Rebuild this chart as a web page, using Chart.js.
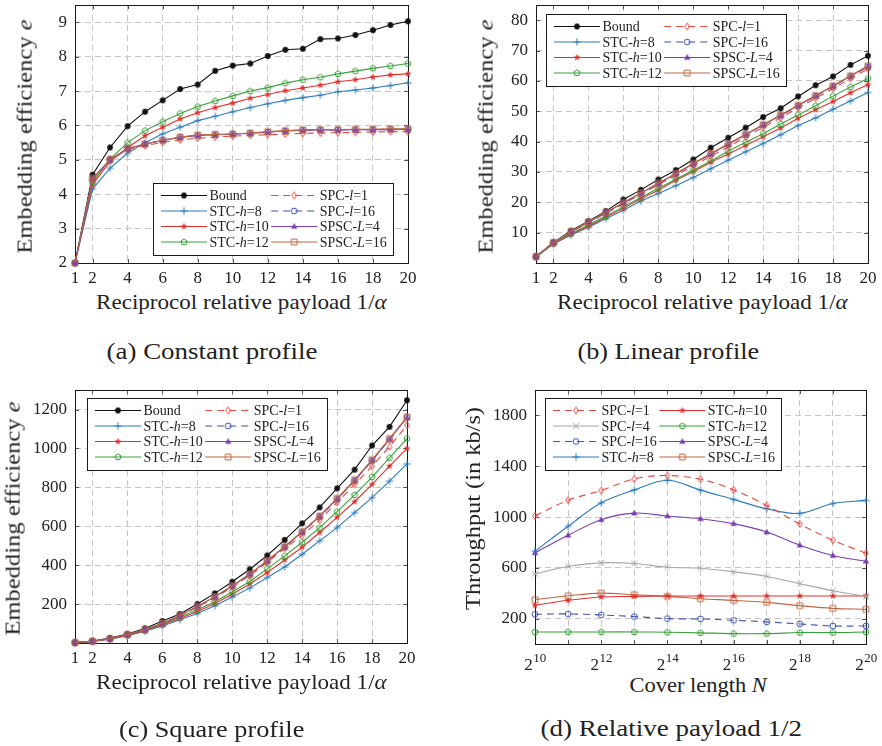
<!DOCTYPE html>
<html><head><meta charset="utf-8">
<script src="https://cdn.jsdelivr.net/npm/chart.js@4.4.1/dist/chart.umd.min.js"></script>
<style>
html,body{margin:0;padding:0;background:#fff;}
body{width:882px;height:746px;position:relative;overflow:hidden;font-family:"Liberation Serif","DejaVu Serif",serif;color:#222;}
canvas{position:absolute;}
.t{position:absolute;white-space:nowrap;line-height:1;color:#222;z-index:2;transform-origin:50% 50%;font-family:"Liberation Serif",serif;}
.ti{font-size:21px;}
.cap{font-size:24px;}
</style></head><body>
<canvas id="ca" width="420" height="290" style="left:0;top:0"></canvas>
<canvas id="cb" width="441" height="290" style="left:441px;top:0"></canvas>
<canvas id="cc" width="420" height="286" style="left:0;top:385px"></canvas>
<canvas id="cd" width="441" height="286" style="left:441px;top:385px"></canvas>

<div class="t ti" id="ay">Embedding efficiency <i>e</i></div>
<div class="t ti" id="ax">Reciprocol relative payload 1/<i>α</i></div>
<div class="t cap" id="acap">(a) Constant profile</div>
<div class="t ti" id="by">Embedding efficiency <i>e</i></div>
<div class="t ti" id="bx">Reciprocol relative payload 1/<i>α</i></div>
<div class="t cap" id="bcap">(b) Linear profile</div>
<div class="t ti" id="cy">Embedding efficiency <i>e</i></div>
<div class="t ti" id="cx">Reciprocol relative payload 1/<i>α</i></div>
<div class="t cap" id="ccap">(c) Square profile</div>
<div class="t ti" id="dy">Throughput (in kb/s)</div>
<div class="t ti" id="dx">Cover length <i>N</i></div>
<div class="t cap" id="dcap">(d) Relative payload 1/2</div>

<script>
// ---------------- data ----------------
const PAYLOAD = [1,2,3,4,5,6,7,8,9,10,11,12,13,14,15,16,17,18,19,20];
const PAYLOAD_TICKS = [1,2,4,6,8,10,12,14,16,18,20];

// (a) constant profile
const A_BOUND  = [2,4.57,5.36,5.98,6.40,6.73,7.06,7.19,7.59,7.74,7.80,8.02,8.20,8.23,8.51,8.53,8.63,8.77,8.92,9.03];
const A_STC8   = [2,4.15,4.76,5.19,5.50,5.76,5.95,6.14,6.27,6.40,6.52,6.63,6.73,6.81,6.88,6.98,7.03,7.09,7.16,7.24];
const A_STC10  = [2,4.28,4.95,5.36,5.70,5.95,6.19,6.37,6.52,6.65,6.79,6.90,7.01,7.09,7.17,7.27,7.33,7.41,7.47,7.50];
const A_STC12  = [2,4.35,5.02,5.50,5.85,6.11,6.35,6.55,6.71,6.86,7.00,7.10,7.23,7.33,7.40,7.50,7.58,7.66,7.73,7.80];
const A_SPC1   = [2,4.42,5.00,5.30,5.41,5.51,5.58,5.63,5.66,5.69,5.71,5.73,5.75,5.77,5.78,5.79,5.80,5.81,5.82,5.82];
const A_SPC16  = [2,4.45,5.00,5.32,5.46,5.57,5.66,5.71,5.73,5.75,5.77,5.81,5.84,5.86,5.87,5.87,5.88,5.88,5.89,5.89];
const A_SPSC4  = [2,4.45,5.00,5.32,5.46,5.56,5.65,5.71,5.73,5.75,5.77,5.81,5.84,5.86,5.87,5.87,5.88,5.88,5.88,5.89];
const A_SPSC16 = [2,4.46,5.01,5.33,5.46,5.57,5.66,5.72,5.74,5.75,5.78,5.82,5.85,5.87,5.88,5.88,5.89,5.89,5.90,5.90];
const A_YTICKS = [2,3,4,5,6,7,8,9];

// (b) linear profile
const B_BOUND  = [2.2,6.8,10.6,13.8,17.1,20.9,24.1,27.5,30.6,34.1,38.0,41.3,44.6,48.1,51.0,54.9,58.6,61.5,65.3,68.3];
const B_STC8   = [2,6.3,9.2,11.8,14.6,17.4,20.4,22.9,25.5,28.2,31.1,33.9,36.7,39.4,42.3,45.3,47.8,50.7,53.4,56.2];
const B_STC10  = [2,6.4,9.4,12.1,15.1,18.0,21.2,24.0,27.3,30.1,33.2,35.9,38.7,41.6,44.5,47.7,50.5,53.2,56.1,58.8];
const B_STC12  = [2,6.5,9.7,12.5,15.5,18.5,21.6,24.6,27.6,30.6,33.6,36.8,39.8,42.6,45.8,48.8,51.8,55.0,58.0,60.8];
const B_SPC1   = [2.1,6.6,10.2,13.3,16.4,19.5,22.6,25.8,28.9,32.0,35.2,38.3,41.5,44.7,47.9,51.1,54.3,57.5,60.8,64.0];
const B_SPC16  = [2.1,6.7,10.3,13.4,16.6,19.8,23.0,26.2,29.4,32.6,35.9,39.1,42.3,45.5,48.6,51.8,55.0,58.2,61.5,64.7];
const B_SPSC4  = [2.1,6.7,10.3,13.4,16.6,19.8,23.0,26.2,29.4,32.7,35.9,39.1,42.3,45.5,48.7,51.9,55.1,58.3,61.6,64.8];
const B_SPSC16 = [2.1,6.7,10.4,13.5,16.7,19.9,23.1,26.3,29.5,32.8,36.1,39.3,42.4,45.6,48.8,52.0,55.2,58.4,61.7,65.0];
const B_YTICKS = [10,20,30,40,50,60,70,80];

// (c) square profile
const C_BOUND  = [2,10,26,46,75,113,149,200,255,315,379,450,530,615,697,795,891,1015,1111,1248];
const C_STC8   = [2,8,20,38,60,87,120,152,191,236,282,337,391,456,525,593,670,747,832,921];
const C_STC10  = [2,8,21,39,63,92,126,162,203,251,303,362,427,492,568,646,726,815,909,1000];
const C_STC12  = [2,9,22,43,65,96,132,171,212,262,316,381,448,518,593,675,761,853,952,1051];
const C_SPC1   = [2,9,22,43,67,99,139,184,233,288,347,414,487,552,632,723,815,909,1009,1120];
const C_SPC16  = [2,9,22,43,68,100,141,187,237,292,352,421,493,570,649,739,834,937,1046,1160];
const C_SPSC4  = [2,9,22,43,68,100,141,187,237,293,353,422,494,571,651,741,836,939,1048,1158];
const C_SPSC16 = [2,9,22,43,68,101,142,188,238,294,354,424,496,573,653,744,839,942,1051,1162];
const C_YTICKS = [200,400,600,800,1000,1200];

// (d) relative payload 1/2, x = log2(cover length N)
const D_LOGN   = [10,11,12,13,14,15,16,17,18,19,20];
const D_SPC1   = [1008,1133,1209,1301,1327,1298,1214,1091,945,817,715];
const D_SPC4   = [553,610,639,634,605,597,569,532,475,420,375];
const D_SPC16  = [234,237,229,216,200,197,187,174,158,142,142];
const D_STC8   = [731,927,1112,1214,1290,1212,1139,1065,1029,1107,1131];
const D_STC10  = [305,344,370,375,378,378,378,378,378,378,378];
const D_STC12  = [95,95,95,95,93,88,82,82,90,90,95];
const D_SPSC4  = [718,856,979,1031,1008,987,948,882,778,697,652];
const D_SPSC16 = [349,380,401,388,375,357,344,328,302,281,273];
const D_YTICKS = [200,600,1000,1400,1800];
const D_XTICKS = [10,11,12,13,14,15,16,17,18,19,20];
const D_XLABELS = [10,12,14,16,18,20];

// ---------------- styles ----------------
const FONT = '"Liberation Serif","DejaVu Serif",serif';
const GRID = '#c6c6c6';
const STYLE = {
  'Bound':     {color:'#111111', mk:'dot'},
  'STC-h=8':   {color:'#2b7bba', mk:'plus'},
  'STC-h=10':  {color:'#e3302f', mk:'star'},
  'STC-h=12':  {color:'#38a038', mk:'pentagon'},
  'SPC-l=1':   {color:'#e8473f', mk:'diamond', dash:[7,5]},
  'SPC-l=4':   {color:'#a6a6a6', mk:'x'},
  'SPC-l=16':  {color:'#3f51b5', mk:'circle', dash:[7,5]},
  'SPSC-L=4':  {color:'#7b3fae', mk:'triangle'},
  'SPSC-L=16': {color:'#c0673f', mk:'square'}
};

function marker(type, color){
  const c = document.createElement('canvas'); c.width = 12; c.height = 12;
  const g = c.getContext('2d'); g.translate(6,6);
  g.strokeStyle = color; g.fillStyle = color; g.lineWidth = 1;
  g.beginPath();
  if (type==='dot'){ g.arc(0,0,2.9,0,Math.PI*2); g.fill(); }
  else if (type==='plus'){ g.moveTo(-3.6,0); g.lineTo(3.6,0); g.moveTo(0,-3.6); g.lineTo(0,3.6); g.stroke(); }
  else if (type==='x'){ g.moveTo(-2.8,-2.8); g.lineTo(2.8,2.8); g.moveTo(-2.8,2.8); g.lineTo(2.8,-2.8); g.stroke(); }
  else if (type==='star'){ for(let i=0;i<10;i++){ const r = i%2?1.5:3.8; const a = -Math.PI/2 + i*Math.PI/5; g.lineTo(r*Math.cos(a), r*Math.sin(a)); } g.closePath(); g.fill(); }
  else if (type==='pentagon'){ for(let i=0;i<5;i++){ const a=-Math.PI/2+i*2*Math.PI/5; g.lineTo(3.2*Math.cos(a),3.2*Math.sin(a)); } g.closePath(); g.stroke(); }
  else if (type==='diamond'){ g.moveTo(0,-3.5); g.lineTo(2.4,0); g.lineTo(0,3.5); g.lineTo(-2.4,0); g.closePath(); g.stroke(); }
  else if (type==='circle'){ g.arc(0,0,2.9,0,Math.PI*2); g.stroke(); }
  else if (type==='triangle'){ g.moveTo(0,-3.6); g.lineTo(3.2,2.3); g.lineTo(-3.2,2.3); g.closePath(); g.fill(); }
  else if (type==='square'){ g.rect(-2.9,-2.9,5.8,5.8); g.stroke(); }
  return c;
}

function ds(label, xs, ys, order, tension){
  const s = STYLE[label];
  return {
    label, order,
    data: xs.map((x,i)=>({x:x, y:ys[i]})),
    borderColor: s.color, backgroundColor: s.color,
    borderWidth: 1.1, borderDash: s.dash || [],
    pointStyle: marker(s.mk, s.color), pointRadius: 3,
    tension: tension || 0, fill: false, clip: false
  };
}

// ---------------- plugin: frame, inner ticks, boxed legend ----------------
function parts(label){ const m = label.match(/^(.*-)(\w)(=.*)$/); return m ? [[m[1],false],[m[2],true],[m[3],false]] : [[label,false]]; }
const framePlugin = {
  id: 'frameLegend',
  beforeDatasetsDraw(chart){
    const ctx = chart.ctx, a = chart.chartArea, xs = chart.scales.x, ys = chart.scales.y;
    ctx.save();
    ctx.strokeStyle = '#555'; ctx.lineWidth = 1; ctx.beginPath();
    for (const t of xs.ticks){ const p = Math.round(xs.getPixelForValue(t.value))+0.5; ctx.moveTo(p,a.bottom); ctx.lineTo(p,a.bottom-4); ctx.moveTo(p,a.top); ctx.lineTo(p,a.top+4); }
    for (const t of ys.ticks){ const p = Math.round(ys.getPixelForValue(t.value))+0.5; ctx.moveTo(a.left,p); ctx.lineTo(a.left+4,p); ctx.moveTo(a.right,p); ctx.lineTo(a.right-4,p); }
    ctx.stroke();
    ctx.strokeStyle = '#1a1a1a';
    ctx.strokeRect(Math.round(a.left)+0.5, Math.round(a.top)+0.5, Math.round(a.right-a.left), Math.round(a.bottom-a.top));
    ctx.restore();
  },
  afterDatasetsDraw(chart, args, o){
    const ctx = chart.ctx, a = chart.chartArea, D = chart.data.datasets;
    if (o.pow){
      ctx.save(); ctx.fillStyle = '#222'; ctx.textBaseline = 'alphabetic';
      for (const v of o.pow){
        const px = chart.scales.x.getPixelForValue(v);
        ctx.font = '17px ' + FONT; const w1 = ctx.measureText('2').width;
        ctx.font = '13px ' + FONT; const w2 = ctx.measureText(String(v)).width;
        const x0 = px - (w1+w2)/2;
        ctx.font = '17px ' + FONT; ctx.fillText('2', x0, a.bottom + 26);
        ctx.font = '13px ' + FONT; ctx.fillText(String(v), x0 + w1 + 0.5, a.bottom + 18);
      }
      ctx.restore();
    }
    if (!o.cols) return;
    ctx.save();
    const fN = '14px ' + FONT, fI = 'italic 14px ' + FONT;
    const meas = l => { let w=0; for (const [t,it] of parts(l)){ ctx.font = it?fI:fN; w += ctx.measureText(t).width; } return w; };
    const LINE = 46, ROW = 15.5, TOP = 12.5;
    let x = 8; const colX = [];
    for (const col of o.cols){ colX.push(x); const mw = Math.max(...col.map(i=>meas(D[i].label))); x += LINE + 2.5 + mw + 2.5; }
    const W = Math.round(x + 4), H = Math.round(TOP*2 + ROW*(Math.max(...o.cols.map(c=>c.length))-1));
    let L, T;
    if (o.anchor === 'br'){ L = a.right - o.dx - W; T = a.bottom - o.dy - H; } else { L = a.left + o.dx; T = a.top + o.dy; }
    L = Math.round(L); T = Math.round(T);
    ctx.fillStyle = '#fff'; ctx.fillRect(L, T, W, H);
    ctx.strokeStyle = '#1a1a1a'; ctx.lineWidth = 1; ctx.strokeRect(L+0.5, T+0.5, W, H);
    o.cols.forEach((col, ci) => {
      col.forEach((di, ri) => {
        const d = D[di]; const y = T + TOP + ri*ROW; const x0 = L + colX[ci];
        ctx.strokeStyle = d.borderColor; ctx.lineWidth = d.borderWidth; ctx.setLineDash(d.borderDash || []);
        ctx.lineDashOffset = 0;
        ctx.beginPath(); ctx.moveTo(x0, y); ctx.lineTo(x0+LINE, y); ctx.stroke(); ctx.setLineDash([]);
        const img = d.pointStyle; ctx.drawImage(img, x0 + LINE/2 - img.width/2, y - img.height/2);
        let tx = x0 + LINE + 2.5; ctx.fillStyle = '#222'; ctx.textBaseline = 'middle';
        for (const [t,it] of parts(d.label)){ ctx.font = it?fI:fN; ctx.fillText(t, tx, y+1); tx += ctx.measureText(t).width; }
      });
    });
    ctx.restore();
  }
};

function axis(min, max, ticks, fit, extra){
  const c = {
    type: 'linear', min, max,
    afterBuildTicks: s => { s.ticks = ticks.map(v=>({value:v})); },
    grid: {color: GRID, lineWidth: 1, drawTicks: false},
    border: {display: false, dash: [6,4]},
    ticks: {font: {family: FONT, size: 17}, color: '#222', padding: 7, autoSkip: false, maxRotation: 0, minRotation: 0, callback: v => String(v)},
    afterFit: s => { fit(s); s.paddingTop = 0; s.paddingBottom = 0; s.paddingLeft = 0; s.paddingRight = 0; }
  };
  if (extra) Object.assign(c.ticks, extra);
  return c;
}

function make(id, datasets, xa, ya, padRight, legend){
  return new Chart(document.getElementById(id), {
    type: 'line',
    data: {datasets},
    options: {
      responsive: false, animation: false, devicePixelRatio: 1,
      layout: {padding: {top: 5, right: padRight, left: 0, bottom: 0}},
      plugins: {legend: {display: false}, tooltip: {enabled: false}, frameLegend: legend},
      scales: {x: xa, y: ya}
    },
    plugins: [framePlugin]
  });
}

// order: lower = drawn on top
function payloadSets(P){
  return [
    ds('Bound', PAYLOAD, P[0], 8),
    ds('STC-h=8', PAYLOAD, P[1], 7),
    ds('STC-h=10', PAYLOAD, P[2], 6),
    ds('STC-h=12', PAYLOAD, P[3], 5),
    ds('SPC-l=1', PAYLOAD, P[4], 4),
    ds('SPC-l=16', PAYLOAD, P[5], 3),
    ds('SPSC-L=4', PAYLOAD, P[6], 2),
    ds('SPSC-L=16', PAYLOAD, P[7], 1)
  ];
}
const COLS8 = [[0,1,2,3],[4,5,6,7]];

make('ca', payloadSets([A_BOUND,A_STC8,A_STC10,A_STC12,A_SPC1,A_SPC16,A_SPSC4,A_SPSC16]),
  axis(1,20,PAYLOAD_TICKS, s=>{s.height=27;}, {padding:5}),
  axis(2,9.5,A_YTICKS, s=>{s.width=75;}, {padding:8}),
  12, {cols: COLS8, anchor:'br', dx:15, dy:8});

make('cb', payloadSets([B_BOUND,B_STC8,B_STC10,B_STC12,B_SPC1,B_SPC16,B_SPSC4,B_SPSC16]),
  axis(1,20,PAYLOAD_TICKS, s=>{s.height=27;}, {padding:5}),
  axis(0,85,B_YTICKS, s=>{s.width=95;}, {padding:8}),
  14, {cols: COLS8, anchor:'tl', dx:10, dy:9});

make('cc', payloadSets([C_BOUND,C_STC8,C_STC10,C_STC12,C_SPC1,C_SPC16,C_SPSC4,C_SPSC16]),
  axis(1,20,PAYLOAD_TICKS, s=>{s.height=28;}, {padding:5}),
  axis(0,1300,C_YTICKS, s=>{s.width=75;}, {padding:8}),
  13, {cols: COLS8, anchor:'tl', dx:12, dy:8});

make('cd', [
    ds('SPC-l=1', D_LOGN, D_SPC1, 1, 0.35),
    ds('SPC-l=4', D_LOGN, D_SPC4, 2, 0.35),
    ds('SPC-l=16', D_LOGN, D_SPC16, 3, 0.35),
    ds('STC-h=8', D_LOGN, D_STC8, 4, 0.35),
    ds('STC-h=10', D_LOGN, D_STC10, 5, 0.35),
    ds('STC-h=12', D_LOGN, D_STC12, 6, 0.35),
    ds('SPSC-L=4', D_LOGN, D_SPSC4, 7, 0.35),
    ds('SPSC-L=16', D_LOGN, D_SPSC16, 8, 0.35)
  ],
  axis(10,20,D_XTICKS, s=>{s.height=27;}, {display:false}),
  axis(0,2000,D_YTICKS, s=>{s.width=94;}, {padding:8}),
  16, {cols: COLS8, anchor:'tl', dx:10, dy:8, pow: D_XLABELS});

// ---------------- html text placement ----------------
function place(id, cx, cy, len, rot){
  const el = document.getElementById(id);
  const w = el.offsetWidth, h = el.offsetHeight;
  const s = len ? len / w : 1.1;
  el.style.left = (cx - w/2) + 'px';
  el.style.top = (cy - h/2) + 'px';
  el.style.transform = (rot ? 'rotate(-90deg) ' : '') + 'scaleX(' + s.toFixed(3) + ')';
}
place('ay', 25, 136, 234, true);
place('ax', 241.5, 302, 291);
place('acap', 211.5, 351, 211);
place('by', 486, 136, 234, true);
place('bx', 702, 302, 291);
place('bcap', 668, 351, 182);
place('cy', 13, 518, 234, true);
place('cx', 241, 682, 291);
place('ccap', 211, 729, 185);
place('dy', 473, 508, 203, true);
place('dx', 698, 685, 137);
place('dcap', 671, 728, 262);
</script>
</body></html>
